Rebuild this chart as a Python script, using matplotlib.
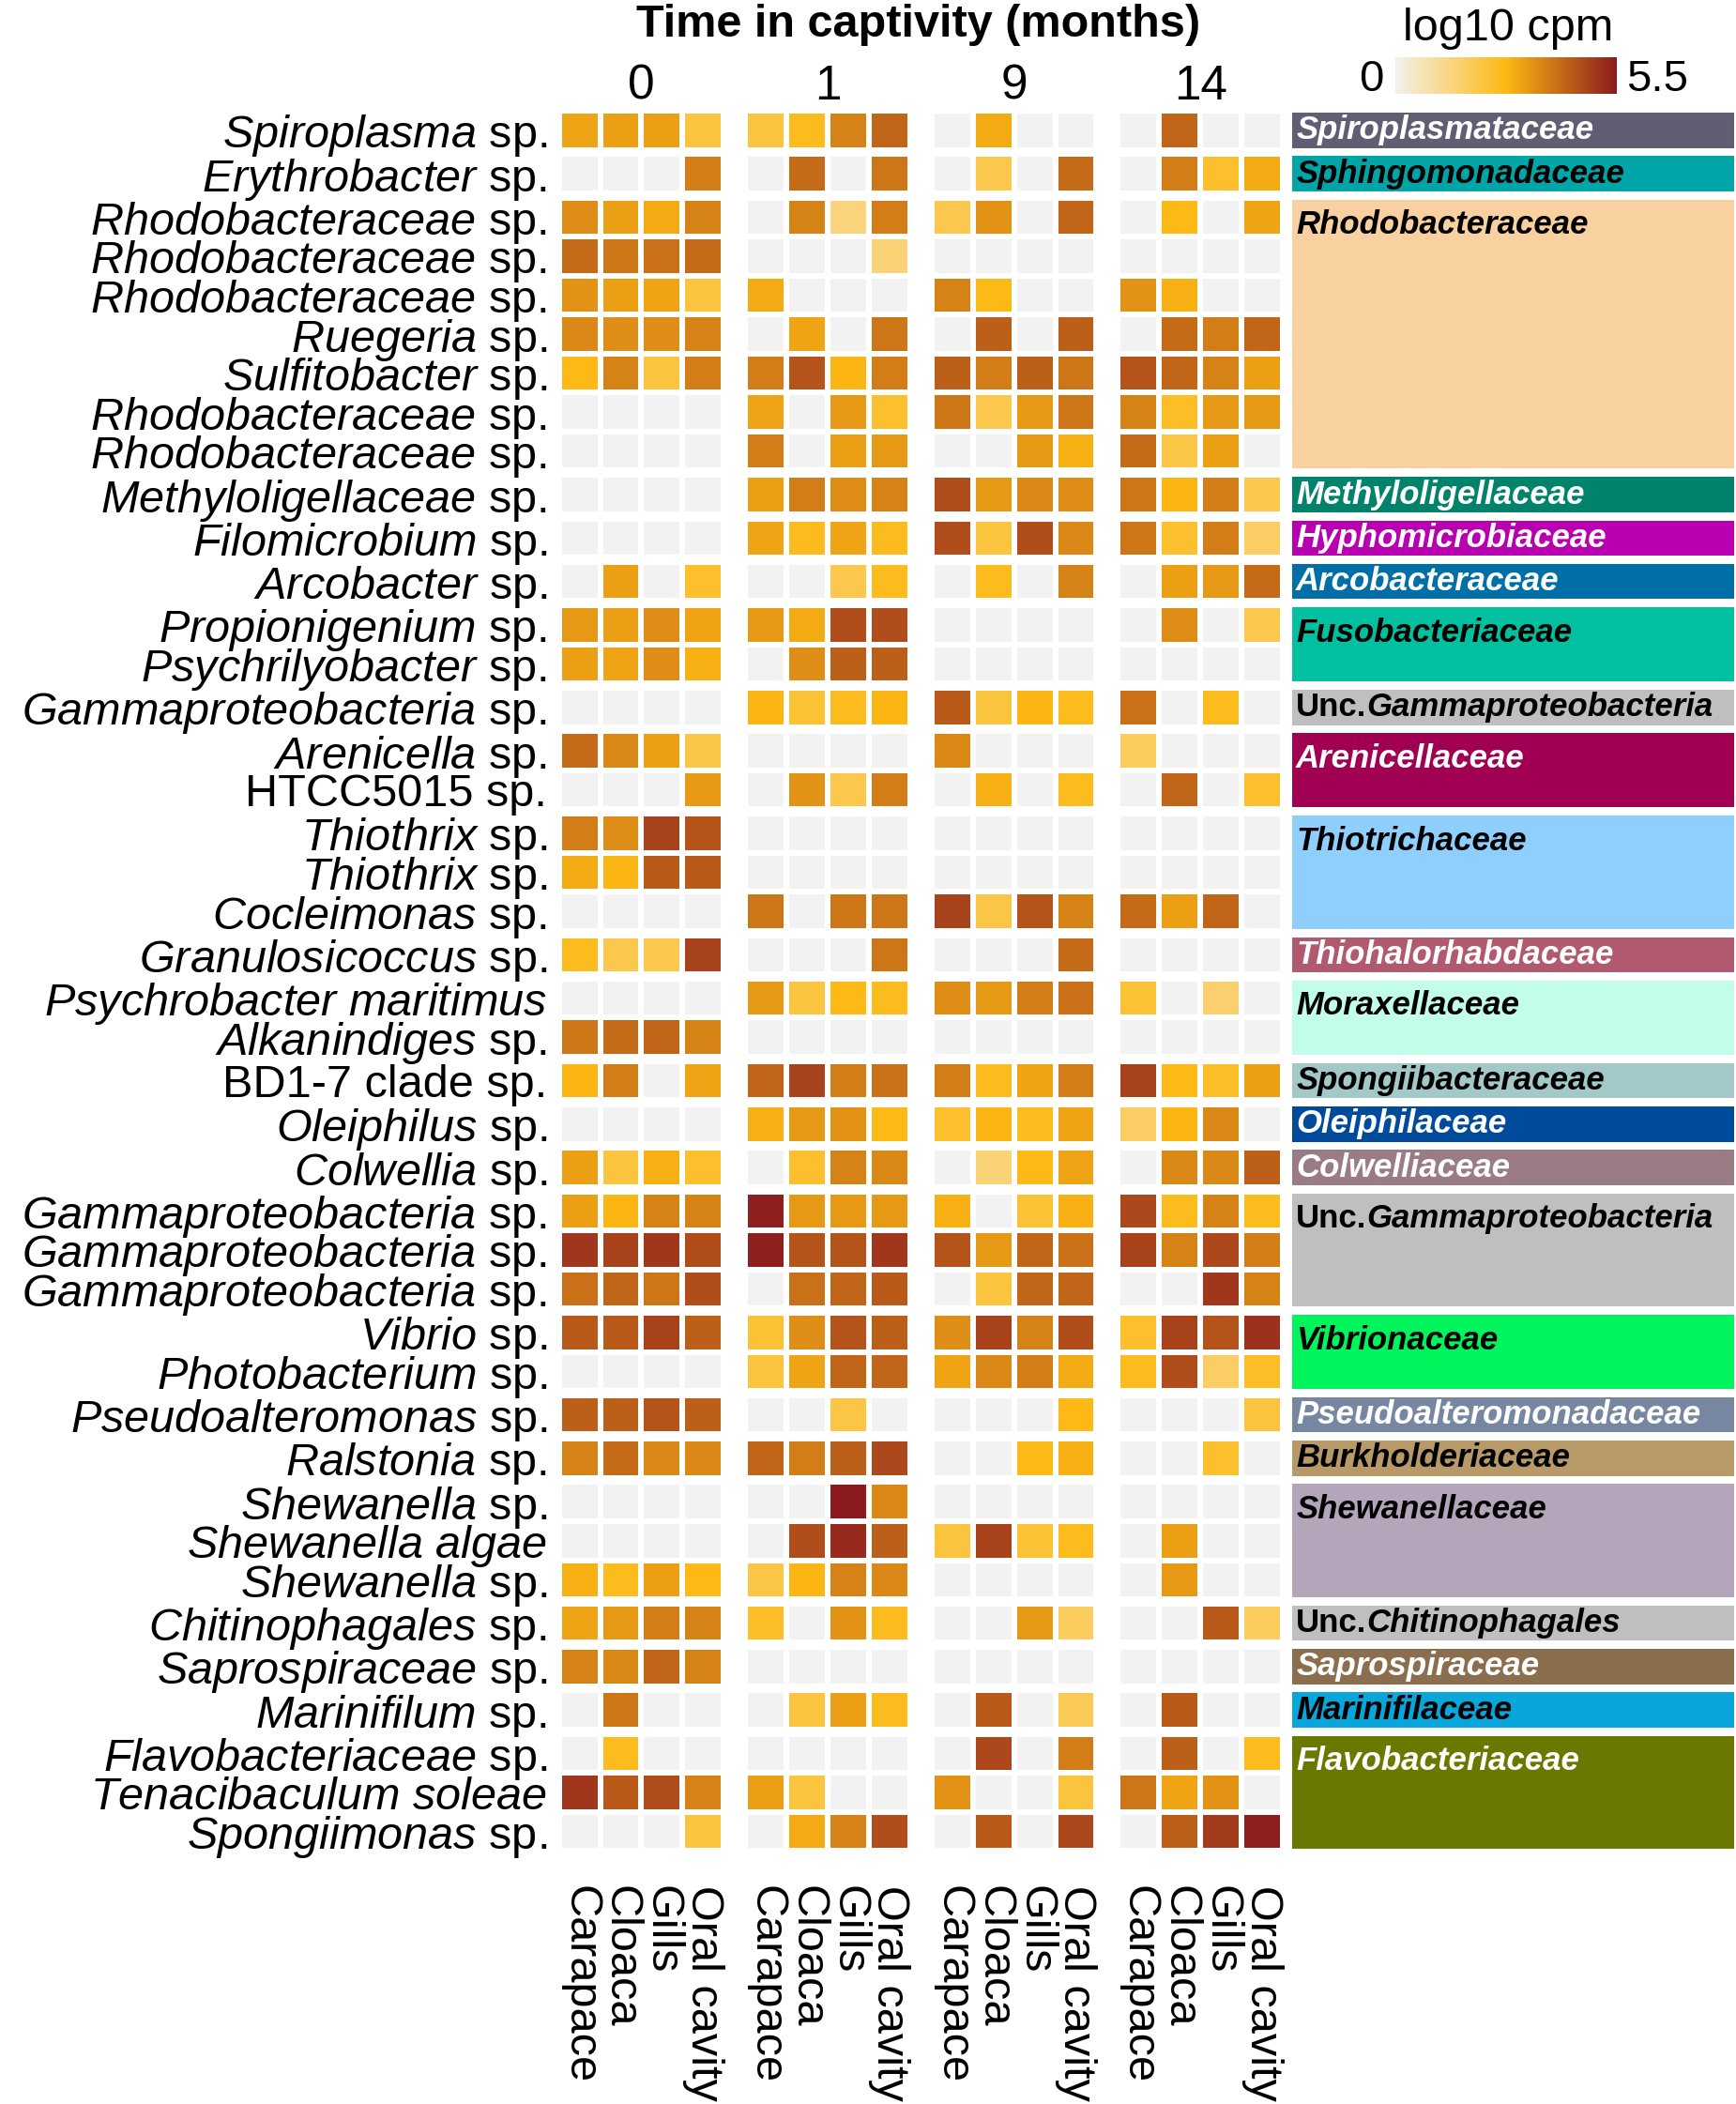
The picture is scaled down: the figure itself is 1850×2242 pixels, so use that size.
import numpy as np
import matplotlib
matplotlib.use('Agg')
import matplotlib.pyplot as plt
from matplotlib.colors import LinearSegmentedColormap

plt.rcParams['font.family'] = 'Liberation Sans'
plt.rcParams['mathtext.fontset'] = 'custom'
plt.rcParams['mathtext.rm'] = 'Liberation Sans'
plt.rcParams['mathtext.it'] = 'Liberation Sans:italic'
plt.rcParams['mathtext.bf'] = 'Liberation Sans:bold'

months = ['0', '1', '9', '14']
sites = ['Carapace', 'Cloaca', 'Gills', 'Oral cavity']

taxa = [
    'Spiroplasma sp.', 'Erythrobacter sp.',
    'Rhodobacteraceae sp.', 'Rhodobacteraceae sp.', 'Rhodobacteraceae sp.',
    'Ruegeria sp.', 'Sulfitobacter sp.', 'Rhodobacteraceae sp.', 'Rhodobacteraceae sp.',
    'Methyloligellaceae sp.', 'Filomicrobium sp.', 'Arcobacter sp.',
    'Propionigenium sp.', 'Psychrilyobacter sp.', 'Gammaproteobacteria sp.',
    'Arenicella sp.', 'HTCC5015 sp.', 'Thiothrix sp.', 'Thiothrix sp.', 'Cocleimonas sp.',
    'Granulosicoccus sp.', 'Psychrobacter maritimus', 'Alkanindiges sp.',
    'BD1-7 clade sp.', 'Oleiphilus sp.', 'Colwellia sp.',
    'Gammaproteobacteria sp.', 'Gammaproteobacteria sp.', 'Gammaproteobacteria sp.',
    'Vibrio sp.', 'Photobacterium sp.', 'Pseudoalteromonas sp.', 'Ralstonia sp.',
    'Shewanella sp.', 'Shewanella algae', 'Shewanella sp.',
    'Chitinophagales sp.', 'Saprospiraceae sp.', 'Marinifilum sp.',
    'Flavobacteriaceae sp.', 'Tenacibaculum soleae', 'Spongiimonas sp.',
]
plain_taxa = ['HTCC5015', 'BD1-7 clade']

families = [
    'Spiroplasmataceae', 'Sphingomonadaceae', 'Rhodobacteraceae', 'Methyloligellaceae',
    'Hyphomicrobiaceae', 'Arcobacteraceae', 'Fusobacteriaceae', 'Unc.Gammaproteobacteria',
    'Arenicellaceae', 'Thiotrichaceae', 'Thiohalorhabdaceae', 'Moraxellaceae',
    'Spongiibacteraceae', 'Oleiphilaceae', 'Colwelliaceae', 'Unc.Gammaproteobacteria',
    'Vibrionaceae', 'Pseudoalteromonadaceae', 'Burkholderiaceae', 'Shewanellaceae',
    'Unc.Chitinophagales', 'Saprospiraceae', 'Marinifilaceae', 'Flavobacteriaceae',
]
family_sizes = [1, 1, 7, 1, 1, 1, 2, 1, 2, 3, 1, 2, 1, 1, 1, 3, 2, 1, 1, 3, 1, 1, 1, 3]
family_colors = [
    '#5f5e72', '#00a5a8', '#f9d0a0', '#00826b', '#b800b0', '#006fa8', '#00c0a0', '#bfbfbf',
    '#a10052', '#8ecffe', '#b15a6f', '#c2fde9', '#a3c8c8', '#004a9c', '#9a7c84', '#bfbfbf',
    '#00f55c', '#7787a1', '#b89a68', '#b4a5bb', '#bfbfbf', '#8a6e4e', '#08a6da', '#6a7800',
]
family_text = [
    'white', 'black', 'black', 'white', 'white', 'white', 'black', 'black',
    'white', 'black', 'white', 'black', 'black', 'white', 'white', 'black',
    'black', 'white', 'black', 'black', 'black', 'white', 'black', 'white',
]

# log10 cpm per taxon, columns = Carapace, Cloaca, Gills, Oral cavity (0 = not detected)
cpm_0m = [
    [3.1, 3.2, 3.2, 2.2], [0, 0, 0, 3.8], [3.5, 3.2, 3.0, 3.7], [4.1, 3.9, 4.0, 4.1],
    [3.4, 3.2, 3.1, 2.2], [3.6, 3.5, 3.5, 3.7], [2.7, 3.7, 2.2, 3.8], [0, 0, 0, 0],
    [0, 0, 0, 0], [0, 0, 0, 0], [0, 0, 0, 0], [0, 3.2, 0, 2.4],
    [3.3, 3.2, 3.5, 3.1], [3.2, 3.1, 3.5, 2.9], [0, 0, 0, 0], [4.1, 3.6, 3.2, 2.1],
    [0, 0, 0, 3.3], [3.8, 3.5, 4.8, 4.5], [3.0, 2.8, 4.4, 4.4], [0, 0, 0, 0],
    [2.6, 2.0, 2.0, 4.8], [0, 0, 0, 0], [3.9, 4.1, 4.2, 3.7], [2.8, 3.8, 0, 3.1],
    [0, 0, 0, 0], [3.2, 2.2, 2.9, 2.4], [3.2, 2.8, 3.7, 3.7], [5.0, 4.8, 5.0, 4.6],
    [4.0, 4.2, 3.9, 4.6], [4.4, 4.4, 4.8, 4.3], [0, 0, 0, 0], [4.3, 4.3, 4.5, 4.3],
    [3.7, 4.1, 3.6, 3.6], [0, 0, 0, 0], [0, 0, 0, 0], [2.9, 2.6, 3.2, 2.7],
    [3.1, 3.3, 3.8, 3.7], [3.7, 3.6, 4.2, 3.7], [0, 3.9, 0, 0], [0, 2.6, 0, 0],
    [5.0, 4.4, 4.6, 3.7], [0, 0, 0, 2.2],
]
cpm_1m = [
    [2.2, 2.6, 3.7, 4.2], [0, 4.1, 0, 3.9], [0, 3.7, 1.4, 3.8], [0, 0, 0, 1.5],
    [3.0, 0, 0, 0], [0, 3.1, 0, 3.9], [3.8, 4.5, 2.8, 3.8], [3.1, 0, 3.3, 2.4],
    [3.8, 0, 3.2, 3.3], [3.2, 3.8, 3.5, 3.7], [3.1, 2.6, 3.1, 2.6], [0, 0, 2.0, 2.6],
    [3.3, 3.0, 4.6, 4.6], [0, 3.5, 4.3, 4.3], [2.8, 2.3, 2.6, 2.8], [0, 0, 0, 0],
    [0, 3.4, 2.0, 3.8], [0, 0, 0, 0], [0, 0, 0, 0], [3.9, 0, 3.9, 3.9],
    [0, 0, 0, 3.9], [3.3, 2.2, 2.7, 2.6], [0, 0, 0, 0], [4.2, 4.8, 3.8, 4.0],
    [2.9, 3.3, 3.4, 2.7], [0, 2.4, 3.7, 3.6], [5.4, 3.3, 3.3, 3.3], [5.4, 4.5, 4.5, 5.0],
    [0, 4.0, 4.2, 4.4], [2.3, 3.5, 4.5, 4.3], [2.2, 3.1, 4.2, 4.2], [0, 0, 2.1, 0],
    [4.2, 3.8, 4.3, 4.7], [0, 0, 5.5, 3.6], [0, 4.6, 5.2, 4.3], [2.1, 2.8, 3.7, 3.6],
    [2.5, 0, 3.4, 2.6], [0, 0, 0, 0], [0, 2.2, 3.2, 2.6], [0, 0, 0, 0],
    [3.2, 2.2, 0, 0], [0, 3.0, 3.7, 4.6],
]
cpm_9m = [
    [0, 3.0, 0, 0], [0, 2.0, 0, 4.1], [2.0, 3.4, 0, 4.2], [0, 0, 0, 0],
    [3.7, 2.7, 0, 0], [0, 4.3, 0, 4.3], [4.3, 3.8, 4.3, 3.9], [3.9, 2.0, 3.3, 3.9],
    [0, 0, 3.3, 2.9], [4.6, 3.3, 3.6, 3.5], [4.6, 2.2, 4.6, 3.6], [0, 2.6, 0, 3.7],
    [0, 0, 0, 0], [0, 0, 0, 0], [4.4, 2.2, 2.8, 2.6], [3.6, 0, 0, 0],
    [0, 2.9, 0, 2.6], [0, 0, 0, 0], [0, 0, 0, 0], [4.8, 2.1, 4.5, 3.7],
    [0, 0, 0, 4.1], [3.5, 3.3, 3.8, 4.0], [0, 0, 0, 0], [3.8, 2.6, 3.1, 3.8],
    [2.4, 2.8, 2.6, 3.1], [0, 1.5, 2.7, 3.1], [2.9, 0, 2.3, 2.9], [4.5, 3.3, 4.2, 4.0],
    [0, 2.2, 4.2, 4.2], [3.5, 4.8, 3.7, 4.6], [3.1, 3.6, 3.8, 3.0], [0, 0, 0, 2.7],
    [0, 0, 2.7, 2.9], [0, 0, 0, 0], [2.2, 4.8, 2.3, 2.6], [0, 0, 0, 0],
    [0, 0, 3.3, 1.8], [0, 0, 0, 0], [0, 4.4, 0, 1.9], [0, 4.7, 0, 3.8],
    [3.4, 0, 0, 2.2], [0, 4.4, 0, 4.7],
]
cpm_14m = [
    [0, 4.2, 0, 0], [0, 3.8, 2.4, 3.0], [0, 2.7, 0, 3.1], [0, 0, 0, 0],
    [3.4, 2.9, 0, 0], [0, 4.1, 3.8, 4.2], [4.5, 4.2, 3.7, 3.2], [3.7, 2.5, 3.3, 3.3],
    [4.1, 2.1, 3.2, 0], [3.9, 2.8, 3.8, 2.0], [3.9, 2.4, 3.8, 1.7], [0, 3.2, 3.3, 4.1],
    [0, 3.5, 0, 2.0], [0, 0, 0, 0], [4.0, 0, 2.6, 0], [1.8, 0, 0, 0],
    [0, 4.2, 0, 2.4], [0, 0, 0, 0], [0, 0, 0, 0], [4.1, 3.2, 4.2, 0],
    [0, 0, 0, 0], [2.3, 0, 1.6, 0], [0, 0, 0, 0], [4.8, 2.7, 2.5, 3.2],
    [1.7, 2.8, 3.6, 0], [0, 3.6, 3.6, 4.3], [4.7, 2.6, 3.7, 2.6], [4.8, 3.7, 4.7, 3.8],
    [0, 0, 5.0, 3.7], [2.4, 4.8, 4.5, 5.1], [2.6, 4.6, 1.7, 2.5], [0, 0, 0, 2.2],
    [0, 0, 2.4, 0], [0, 0, 0, 0], [0, 3.2, 0, 0], [0, 3.3, 0, 0],
    [0, 0, 4.4, 1.8], [0, 0, 0, 0], [0, 4.4, 0, 0], [0, 4.3, 0, 2.6],
    [3.9, 3.1, 3.4, 0], [0, 4.3, 4.9, 5.4],
]

GX = 0.52   # extra gap between time points (cell units)
GY = 0.114  # extra gap between families
LW = 2.9    # white grid line width
FIG_W, FIG_H = 1850, 2242


def taxon_label(name):
    if name.endswith(' sp.'):
        genus = name[:-4]
        if genus in plain_taxa:
            return name
        return r'$\mathit{' + genus.replace(' ', r'\ ') + '}$ sp.'
    return r'$\mathit{' + name.replace(' ', r'\ ') + '}$'


def fig_box(left, top, right, bottom):
    return [left / FIG_W, 1 - bottom / FIG_H, (right - left) / FIG_W, (bottom - top) / FIG_H]


cmap = LinearSegmentedColormap.from_list('cpm', ['#f4f1ea', '#fdb913', '#8b1a1e'])
cmap.set_bad('#f2f2f2')

fig = plt.figure(figsize=(FIG_W / 100, FIG_H / 100), dpi=100)
ax = fig.add_axes(fig_box(595.6, 118, 1367, 1972.4))
ax_fam = fig.add_axes(fig_box(1375, 118, 1850, 1972.4))

data = [np.array(cpm_0m), np.array(cpm_1m), np.array(cpm_9m), np.array(cpm_14m)]

row_centers = []
start, ytop = 0, 0.0
for k, n in enumerate(family_sizes):
    for t in range(4):
        block = np.ma.masked_equal(data[t][start:start + n], 0)
        X = t * (4 + GX) + np.arange(5)
        Y = ytop + np.arange(n + 1)
        mesh = ax.pcolormesh(X, Y, block, cmap=cmap, vmin=0, vmax=5.5,
                             edgecolors='white', linewidth=LW)
    row_centers += [ytop + i + 0.5 for i in range(n)]

    # family strip
    ax_fam.barh(ytop + n / 2, 1, height=n, left=0, color=family_colors[k],
                edgecolor='white', linewidth=LW)
    ty = ytop + 0.5 + (0.2 if n > 1 else 0)
    name = families[k]
    if name.startswith('Unc.'):
        t1 = ax_fam.text(0.013, ty, 'Unc.', fontsize=25, fontweight='bold',
                         color=family_text[k], va='center', ha='left')
        ax_fam.annotate(name[4:], xy=(1, 0), xycoords=t1, fontsize=25, fontweight='bold',
                        fontstyle='italic', color=family_text[k], va='bottom', ha='left')
    else:
        ax_fam.text(0.013, ty, name, fontsize=25, fontweight='bold', fontstyle='italic',
                    color=family_text[k], va='center', ha='left')
    start += n
    ytop += n + GY

H = ytop - GY
W = 16 + 3 * GX

ax.set_xlim(0, W)
ax.set_ylim(H, 0)
ax.set_yticks(row_centers)
ax.set_yticklabels([taxon_label(t) for t in taxa], fontsize=35)
col_centers = [t * (4 + GX) + s + 0.5 for t in range(4) for s in range(4)]
ax.set_xticks(col_centers)
ax.set_xticklabels(sites * 4, fontsize=35, rotation=270)
ax.tick_params(axis='y', length=0, pad=9)
ax.tick_params(axis='x', length=0, pad=26)
for s in ax.spines.values():
    s.set_visible(False)

for t in range(4):
    ax.text(t * (4 + GX) + 2, -0.29, months[t], ha='center', va='baseline', fontsize=37)

ax_fam.set_xlim(0, 1)
ax_fam.set_ylim(H, 0)
ax_fam.axis('off')

fig.text(979 / FIG_W, 1 - 38.6 / FIG_H, 'Time in captivity (months)', ha='center',
         va='baseline', fontsize=35, fontweight='bold')
fig.text(1607 / FIG_W, 1 - 43 / FIG_H, 'log10 cpm', ha='center', va='baseline', fontsize=35)

cax = fig.add_axes(fig_box(1487, 61, 1723, 100))
cb = fig.colorbar(mesh, cax=cax, orientation='horizontal')
cb.set_ticks([])
cb.outline.set_visible(False)
fig.text(1461 / FIG_W, 1 - 97 / FIG_H, '0', ha='center', va='baseline', fontsize=34)
fig.text(1766 / FIG_W, 1 - 97 / FIG_H, '5.5', ha='center', va='baseline', fontsize=34)

fig.savefig('out.png', dpi=100)
